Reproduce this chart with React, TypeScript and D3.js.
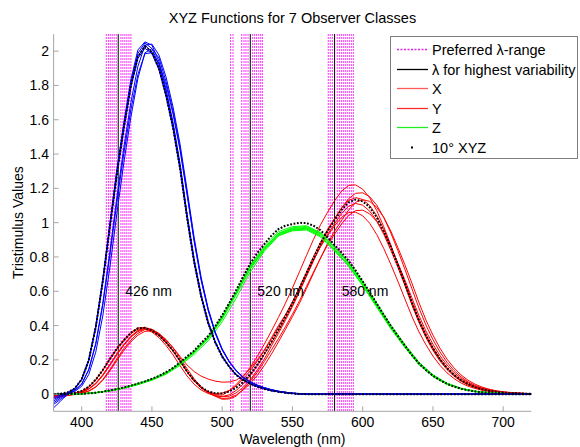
import React from 'react';
import * as d3 from 'd3';

const W = 580;
const H = 447;
const plot = { left: 53.6, right: 531.3, top: 34, bottom: 411.3 };
const font = 'Liberation Sans, Arial, Helvetica, sans-serif';

// wavelength grids (nm)
const wl5 = d3.range(380, 721, 5);
const wl10 = d3.range(380, 721, 10);

// 10 degree standard observer
const x10 = [
  0.0002, 0.0007, 0.0024, 0.0072, 0.0191, 0.0434, 0.0847, 0.1406, 0.2045, 0.2647,
  0.3147, 0.3577, 0.3837, 0.3867, 0.3707, 0.3430, 0.3023, 0.2541, 0.1956, 0.1323,
  0.0805, 0.0411, 0.0162, 0.0051, 0.0038, 0.0154, 0.0375, 0.0714, 0.1177, 0.1730,
  0.2365, 0.3042, 0.3768, 0.4516, 0.5298, 0.6161, 0.7052, 0.7938, 0.8787, 0.9512,
  1.0142, 1.0743, 1.1185, 1.1343, 1.1240, 1.0891, 1.0305, 0.9507, 0.8563, 0.7549,
  0.6475, 0.5351, 0.4316, 0.3437, 0.2683, 0.2043, 0.1526, 0.1122, 0.0813, 0.0579,
  0.0409, 0.0286, 0.0199, 0.0138, 0.0096, 0.0066, 0.0046, 0.0031, 0.0022,
];
const y10 = [
  0.0000, 0.0001, 0.0003, 0.0008, 0.0020, 0.0045, 0.0088, 0.0145, 0.0214, 0.0295,
  0.0387, 0.0496, 0.0621, 0.0747, 0.0895, 0.1063, 0.1282, 0.1528, 0.1852, 0.2199,
  0.2536, 0.2977, 0.3391, 0.3954, 0.4608, 0.5314, 0.6067, 0.6857, 0.7618, 0.8233,
  0.8752, 0.9238, 0.9620, 0.9822, 0.9918, 0.9991, 0.9973, 0.9824, 0.9556, 0.9152,
  0.8689, 0.8256, 0.7774, 0.7204, 0.6583, 0.5939, 0.5280, 0.4618, 0.3981, 0.3396,
  0.2835, 0.2283, 0.1798, 0.1402, 0.1076, 0.0812, 0.0603, 0.0441, 0.0318, 0.0226,
  0.0159, 0.0111, 0.0077, 0.0054, 0.0037, 0.0026, 0.0018, 0.0012, 0.0008,
];
const z10 = [
  0.0007, 0.0029, 0.0105, 0.0323, 0.0860, 0.1971, 0.3894, 0.6568, 0.9725, 1.2825,
  1.5535, 1.7985, 1.9673, 2.0273, 1.9948, 1.9007, 1.7454, 1.5549, 1.3176, 1.0302,
  0.7721, 0.5701, 0.4153, 0.3024, 0.2185, 0.1592, 0.1120, 0.0822, 0.0607, 0.0431,
  0.0305, 0.0206, 0.0137, 0.0079, 0.0040, 0.0011, 0, 0, 0, 0,
  0, 0, 0, 0, 0, 0, 0, 0, 0, 0,
  0, 0, 0, 0, 0, 0, 0, 0, 0, 0,
  0, 0, 0, 0, 0, 0, 0, 0, 0,
];

// observer classes, x-bar (5 nm)
const xObs1 = [
  -0.020, -0.015, -0.008, 0.000, 0.014, 0.040, 0.083, 0.140, 0.205, 0.266,
  0.317, 0.360, 0.386, 0.389, 0.372, 0.343, 0.301, 0.252, 0.193, 0.130,
  0.078, 0.038, 0.012, -0.002, -0.006, 0.020, 0.056, 0.102, 0.157, 0.221,
  0.292, 0.368, 0.447, 0.530, 0.619, 0.714, 0.809, 0.903, 0.988, 1.061,
  1.128, 1.184, 1.217, 1.220, 1.195, 1.145, 1.070, 0.976, 0.870, 0.757,
  0.639, 0.522, 0.419, 0.330, 0.255, 0.193, 0.143, 0.105, 0.075, 0.053,
  0.038, 0.026, 0.018, 0.013, 0.009, 0.006, 0.004, 0.003, 0.002,
];
const xObs2 = [
  -0.012, -0.008, -0.004, 0.002, 0.011, 0.030, 0.062, 0.110, 0.170, 0.232,
  0.288, 0.336, 0.370, 0.385, 0.375, 0.347, 0.304, 0.253, 0.194, 0.131,
  0.078, 0.038, 0.010, -0.008, -0.015, -0.012, 0.008, 0.040, 0.085, 0.140,
  0.205, 0.281, 0.354, 0.431, 0.510, 0.596, 0.687, 0.779, 0.870, 0.952,
  1.022, 1.086, 1.140, 1.171, 1.174, 1.151, 1.102, 1.030, 0.940, 0.838,
  0.729, 0.615, 0.503, 0.403, 0.318, 0.246, 0.186, 0.138, 0.101, 0.072,
  0.051, 0.036, 0.025, 0.018, 0.012, 0.008, 0.006, 0.004, 0.003,
];
const xObs3 = [
  -0.008, -0.005, -0.002, 0.002, 0.007, 0.019, 0.043, 0.085, 0.141, 0.205,
  0.265, 0.315, 0.355, 0.377, 0.378, 0.352, 0.308, 0.255, 0.194, 0.130,
  0.076, 0.035, 0.008, -0.010, -0.025, -0.022, -0.005, 0.025, 0.062, 0.110,
  0.167, 0.233, 0.304, 0.377, 0.452, 0.530, 0.616, 0.705, 0.794, 0.879,
  0.951, 1.014, 1.074, 1.119, 1.134, 1.124, 1.089, 1.031, 0.951, 0.856,
  0.755, 0.648, 0.535, 0.432, 0.344, 0.268, 0.204, 0.153, 0.112, 0.081,
  0.058, 0.041, 0.029, 0.020, 0.014, 0.010, 0.007, 0.005, 0.003,
];
const xObs4 = [
  -0.015, -0.010, -0.005, 0.001, 0.010, 0.029, 0.060, 0.108, 0.168, 0.230,
  0.285, 0.332, 0.365, 0.378, 0.362, 0.330, 0.284, 0.229, 0.166, 0.106,
  0.058, 0.024, 0.004, -0.010, -0.014, -0.004, 0.022, 0.060, 0.108, 0.165,
  0.232, 0.298, 0.369, 0.443, 0.519, 0.604, 0.691, 0.778, 0.861, 0.932,
  0.994, 1.053, 1.096, 1.112, 1.102, 1.067, 1.010, 0.932, 0.839, 0.740,
  0.635, 0.524, 0.423, 0.337, 0.263, 0.200, 0.150, 0.110, 0.080, 0.057,
  0.040, 0.028, 0.020, 0.014, 0.009, 0.006, 0.005, 0.003, 0.002,
];
const xObs5 = [
  -0.018, -0.014, -0.008, -0.002, 0.005, 0.017, 0.040, 0.080, 0.135, 0.196,
  0.255, 0.305, 0.344, 0.366, 0.370, 0.352, 0.318, 0.270, 0.212, 0.148,
  0.090, 0.043, 0.010, -0.012, -0.030, -0.028, -0.012, 0.030, 0.075, 0.128,
  0.190, 0.257, 0.323, 0.393, 0.466, 0.544, 0.628, 0.712, 0.794, 0.869,
  0.934, 0.992, 1.042, 1.070, 1.073, 1.051, 1.007, 0.941, 0.858, 0.765,
  0.666, 0.562, 0.459, 0.368, 0.291, 0.224, 0.170, 0.126, 0.092, 0.066,
  0.047, 0.033, 0.023, 0.016, 0.011, 0.008, 0.005, 0.004, 0.003,
];
const xObs6 = [
  -0.010, -0.006, -0.001, 0.006, 0.018, 0.042, 0.083, 0.139, 0.202, 0.262,
  0.311, 0.353, 0.379, 0.383, 0.368, 0.340, 0.300, 0.252, 0.194, 0.131,
  0.079, 0.039, 0.014, 0.003, 0.006, 0.022, 0.048, 0.089, 0.137, 0.193,
  0.254, 0.320, 0.389, 0.461, 0.539, 0.621, 0.705, 0.786, 0.860, 0.924,
  0.982, 1.031, 1.059, 1.061, 1.040, 0.996, 0.931, 0.849, 0.757, 0.659,
  0.556, 0.454, 0.364, 0.288, 0.222, 0.168, 0.124, 0.091, 0.065, 0.046,
  0.033, 0.023, 0.016, 0.011, 0.008, 0.005, 0.004, 0.003, 0.002,
];
const xObs7 = [
  -0.005, -0.002, 0.000, 0.004, 0.013, 0.031, 0.064, 0.113, 0.173, 0.235,
  0.290, 0.337, 0.371, 0.386, 0.378, 0.354, 0.318, 0.272, 0.220, 0.170,
  0.132, 0.105, 0.088, 0.076, 0.070, 0.071, 0.082, 0.108, 0.150, 0.200,
  0.258, 0.328, 0.400, 0.462, 0.535, 0.622, 0.712, 0.802, 0.887, 0.961,
  1.024, 1.085, 1.130, 1.146, 1.135, 1.100, 1.041, 0.960, 0.865, 0.762,
  0.654, 0.540, 0.436, 0.347, 0.271, 0.206, 0.154, 0.113, 0.082, 0.058,
  0.041, 0.029, 0.020, 0.014, 0.010, 0.007, 0.005, 0.003, 0.002,
];

// observer classes, y-bar (10 nm)
const yObs1 = [
  0, 0.000, 0.002, 0.009, 0.021, 0.038, 0.060, 0.087, 0.124, 0.180,
  0.246, 0.329, 0.447, 0.588, 0.739, 0.849, 0.933, 0.962, 0.967, 0.927,
  0.843, 0.754, 0.639, 0.512, 0.386, 0.275, 0.174, 0.104, 0.058, 0.031,
  0.015, 0.007, 0.004, 0.002, 0.001,
];
const yObs2 = [
  0, 0.000, 0.002, 0.008, 0.020, 0.036, 0.058, 0.085, 0.121, 0.175,
  0.241, 0.322, 0.438, 0.583, 0.737, 0.852, 0.937, 0.970, 0.978, 0.941,
  0.856, 0.764, 0.648, 0.520, 0.392, 0.279, 0.177, 0.106, 0.059, 0.031,
  0.016, 0.008, 0.004, 0.002, 0.001,
];
const yObs3 = [
  0, 0.000, 0.002, 0.009, 0.021, 0.037, 0.060, 0.086, 0.124, 0.179,
  0.245, 0.327, 0.445, 0.585, 0.735, 0.845, 0.928, 0.957, 0.962, 0.922,
  0.838, 0.750, 0.635, 0.510, 0.384, 0.274, 0.174, 0.104, 0.058, 0.031,
  0.015, 0.007, 0.004, 0.002, 0.001,
];
const yObs4 = [
  0, 0.000, 0.002, 0.009, 0.021, 0.038, 0.061, 0.088, 0.126, 0.181,
  0.248, 0.331, 0.449, 0.592, 0.743, 0.853, 0.938, 0.967, 0.972, 0.935,
  0.852, 0.764, 0.650, 0.524, 0.397, 0.285, 0.183, 0.111, 0.063, 0.034,
  0.017, 0.009, 0.004, 0.002, 0.001,
];
const yObs5 = [
  0, 0.000, 0.001, 0.007, 0.018, 0.034, 0.055, 0.081, 0.116, 0.167,
  0.232, 0.311, 0.422, 0.560, 0.713, 0.833, 0.922, 0.959, 0.968, 0.936,
  0.857, 0.770, 0.657, 0.531, 0.404, 0.290, 0.187, 0.113, 0.064, 0.034,
  0.017, 0.009, 0.004, 0.002, 0.001,
];
const yObs6 = [
  0, 0.000, 0.002, 0.008, 0.021, 0.037, 0.060, 0.086, 0.123, 0.178,
  0.243, 0.326, 0.442, 0.582, 0.731, 0.840, 0.924, 0.952, 0.957, 0.917,
  0.834, 0.746, 0.632, 0.507, 0.382, 0.272, 0.173, 0.103, 0.058, 0.031,
  0.015, 0.007, 0.004, 0.002, 0.001,
];
const yObs7 = [
  0, 0.000, 0.002, 0.009, 0.021, 0.038, 0.061, 0.088, 0.126, 0.182,
  0.250, 0.334, 0.454, 0.598, 0.750, 0.862, 0.948, 0.977, 0.982, 0.941,
  0.856, 0.766, 0.648, 0.520, 0.392, 0.279, 0.177, 0.106, 0.059, 0.031,
  0.016, 0.008, 0.004, 0.002, 0.001,
];

// observer classes, z-bar (5 nm)
const zObs1 = [
  -0.080, -0.040, 0.000, 0.030, 0.087, 0.199, 0.393, 0.663, 0.982, 1.295,
  1.569, 1.816, 1.987, 2.048, 2.015, 1.920, 1.763, 1.570, 1.331, 1.041,
  0.780, 0.576, 0.419, 0.305, 0.221, 0.161, 0.113, 0.083, 0.061, 0.044,
  0.031, 0.021, 0.014, 0.008, 0.004, 0.001, 0, 0, 0, 0,
  0, 0, 0, 0, 0, 0, 0, 0, 0, 0,
  0, 0, 0, 0, 0, 0, 0, 0, 0, 0,
  0, 0, 0, 0, 0, 0, 0, 0, 0,
];
const zObs2 = [
  -0.050, -0.022, 0.004, 0.031, 0.086, 0.197, 0.389, 0.657, 0.973, 1.283,
  1.554, 1.799, 1.967, 2.035, 1.995, 1.901, 1.745, 1.555, 1.318, 1.030,
  0.772, 0.570, 0.415, 0.302, 0.219, 0.159, 0.112, 0.082, 0.061, 0.043,
  0.031, 0.021, 0.014, 0.008, 0.004, 0.001, 0, 0, 0, 0,
  0, 0, 0, 0, 0, 0, 0, 0, 0, 0,
  0, 0, 0, 0, 0, 0, 0, 0, 0, 0,
  0, 0, 0, 0, 0, 0, 0, 0, 0,
];
const zObs3 = [
  -0.060, -0.030, -0.002, 0.020, 0.060, 0.144, 0.297, 0.531, 0.827, 1.145,
  1.439, 1.701, 1.911, 2.035, 2.041, 1.977, 1.850, 1.675, 1.458, 1.192,
  0.915, 0.681, 0.500, 0.364, 0.264, 0.192, 0.138, 0.098, 0.072, 0.053,
  0.038, 0.026, 0.017, 0.011, 0.006, 0.003, 0.001, 0, 0, 0,
  0, 0, 0, 0, 0, 0, 0, 0, 0, 0,
  0, 0, 0, 0, 0, 0, 0, 0, 0, 0,
  0, 0, 0, 0, 0, 0, 0, 0, 0,
];
const zObs4 = [
  -0.030, -0.012, 0.004, 0.021, 0.058, 0.141, 0.290, 0.518, 0.807, 1.117,
  1.404, 1.659, 1.864, 1.985, 1.991, 1.929, 1.805, 1.634, 1.422, 1.162,
  0.892, 0.664, 0.488, 0.355, 0.257, 0.187, 0.135, 0.096, 0.070, 0.051,
  0.037, 0.026, 0.017, 0.011, 0.006, 0.003, 0.001, 0, 0, 0,
  0, 0, 0, 0, 0, 0, 0, 0, 0, 0,
  0, 0, 0, 0, 0, 0, 0, 0, 0, 0,
  0, 0, 0, 0, 0, 0, 0, 0, 0,
];
const zObs5 = [
  -0.020, -0.006, 0.010, 0.033, 0.088, 0.201, 0.397, 0.670, 0.992, 1.308,
  1.585, 1.834, 2.007, 2.054, 2.035, 1.939, 1.780, 1.586, 1.344, 1.051,
  0.788, 0.581, 0.424, 0.308, 0.223, 0.162, 0.114, 0.084, 0.062, 0.044,
  0.031, 0.021, 0.014, 0.008, 0.004, 0.001, 0, 0, 0, 0,
  0, 0, 0, 0, 0, 0, 0, 0, 0, 0,
  0, 0, 0, 0, 0, 0, 0, 0, 0, 0,
  0, 0, 0, 0, 0, 0, 0, 0, 0,
];
const zObs6 = [
  0.000, 0.001, 0.004, 0.015, 0.046, 0.114, 0.245, 0.456, 0.736, 1.050,
  1.350, 1.615, 1.841, 1.990, 2.015, 1.960, 1.823, 1.650, 1.436, 1.174,
  0.901, 0.671, 0.493, 0.359, 0.260, 0.189, 0.136, 0.097, 0.071, 0.052,
  0.037, 0.026, 0.017, 0.011, 0.006, 0.003, 0.001, 0, 0, 0,
  0, 0, 0, 0, 0, 0, 0, 0, 0, 0,
  0, 0, 0, 0, 0, 0, 0, 0, 0, 0,
  0, 0, 0, 0, 0, 0, 0, 0, 0,
];
const zObs7 = [
  -0.040, -0.015, 0.007, 0.032, 0.085, 0.196, 0.387, 0.653, 0.968, 1.276,
  1.546, 1.790, 1.957, 2.017, 1.985, 1.891, 1.737, 1.547, 1.311, 1.025,
  0.768, 0.567, 0.413, 0.301, 0.217, 0.158, 0.111, 0.082, 0.060, 0.043,
  0.030, 0.020, 0.014, 0.008, 0.004, 0.001, 0, 0, 0, 0,
  0, 0, 0, 0, 0, 0, 0, 0, 0, 0,
  0, 0, 0, 0, 0, 0, 0, 0, 0, 0,
  0, 0, 0, 0, 0, 0, 0, 0, 0,
];

const xObs = [xObs1, xObs2, xObs3, xObs4, xObs5, xObs6, xObs7];
const yObs = [yObs1, yObs2, yObs3, yObs4, yObs5, yObs6, yObs7];
const zObs = [zObs1, zObs2, zObs3, zObs4, zObs5, zObs6, zObs7];

// vertical markers
const preferredWl = [
  417.5, 419.0, 420.3, 421.7, 423.1, 424.6, 427.9, 429.3, 430.7, 432.1, 433.6, 435.0,
  506.0, 507.7, 513.9, 515.5, 516.9, 518.4, 521.7, 523.1, 524.5, 526.0, 527.4, 528.6,
  575.5, 576.9, 578.4, 581.9, 583.4, 584.8, 586.2, 587.6, 589.0, 590.5, 591.9, 593.3,
];
const peakWl = [426, 520, 580];
const peakLabels = ['426 nm', '520 nm', '580 nm'];

const xTicks = [400, 450, 500, 550, 600, 650, 700];
const yTicks = [0, 0.2, 0.4, 0.6, 0.8, 1, 1.2, 1.4, 1.6, 1.8, 2];

const legendLabels = ['Preferred \u03bb-range', '\u03bb for highest variability', 'X', 'Y', 'Z', '10\u00b0 XYZ'];
const legendColors = ['#e020e0', '#000000', '#ff5a5a', '#ff2a2a', '#22ee22', '#000000'];

const xScale = d3.scaleLinear().domain([380, 720]).range([plot.left, plot.right]);
const yScale = d3.scaleLinear().domain([-0.1, 2.1]).range([plot.bottom, plot.top]);

const path5 = d3
  .line<number>()
  .x((_, i) => xScale(wl5[i]))
  .y((d) => yScale(d));
const path10 = d3
  .line<number>()
  .x((_, i) => xScale(wl10[i]))
  .y((d) => yScale(d));

export default function App() {
  const axisGray = '#a6a6a6';
  const legend = { x: 390, y: 36, w: 187, h: 122 };
  const rowY = (i: number) => 49 + i * 19.5;

  return (
    <svg
      width={W}
      height={H}
      style={{ position: 'absolute', left: 0, top: 0, background: '#fff' }}
      fontFamily={font}
    >
      <rect width={W} height={H} fill="#fff" />
      <defs>
        <clipPath id="plotclip">
          <rect x={plot.left} y={plot.top} width={plot.right - plot.left} height={plot.bottom - plot.top} />
        </clipPath>
      </defs>

      <text x={(plot.left + plot.right) / 2} y={18} textAnchor="middle" dominantBaseline="central" fontSize={14.5}>
        XYZ Functions for 7 Observer Classes
      </text>

      <g clipPath="url(#plotclip)">
        {preferredWl.map((w) => (
          <line
            key={'p' + w}
            x1={xScale(w)}
            x2={xScale(w)}
            y1={plot.top}
            y2={plot.bottom}
            stroke="#ff00ff"
            strokeOpacity={0.8}
            strokeWidth={1}
            strokeDasharray="2 1"
          />
        ))}
        {peakWl.map((w) => (
          <line key={'b' + w} x1={xScale(w)} x2={xScale(w)} y1={plot.top} y2={plot.bottom} stroke="#000" strokeWidth={1} />
        ))}

        {xObs.map((d, i) => (
          <path key={'x' + i} d={path5(d) || ''} fill="none" stroke="#ff0000" strokeWidth={1} />
        ))}
        {yObs.map((d, i) => (
          <path key={'y' + i} d={path10(d) || ''} fill="none" stroke="#00ff00" strokeWidth={1} />
        ))}
        {zObs.map((d, i) => (
          <path key={'z' + i} d={path5(d) || ''} fill="none" stroke="#0000ff" strokeWidth={1} />
        ))}

        {[x10, y10, z10].map((d, i) => (
          <path
            key={'s' + i}
            d={path5(d) || ''}
            fill="none"
            stroke="#000"
            strokeWidth={2}
            strokeDasharray="1.8 1.6"
          />
        ))}
      </g>

      {peakWl.map((w, i) => (
        <text key={'t' + w} x={xScale(w + 5)} y={yScale(0.6)} dominantBaseline="central" fontSize={14}>
          {peakLabels[i]}
        </text>
      ))}

      {/* axes */}
      <line x1={plot.left} x2={plot.left} y1={plot.top} y2={plot.bottom} stroke={axisGray} />
      <line x1={plot.left} x2={plot.right} y1={plot.bottom} y2={plot.bottom} stroke={axisGray} />
      {xTicks.map((t) => (
        <g key={'xt' + t}>
          <line x1={xScale(t)} x2={xScale(t)} y1={plot.bottom} y2={plot.bottom - 5} stroke={axisGray} />
          <text x={xScale(t)} y={422} textAnchor="middle" dominantBaseline="central" fontSize={14}>
            {t}
          </text>
        </g>
      ))}
      {yTicks.map((t) => (
        <g key={'yt' + t}>
          <line x1={plot.left} x2={plot.left + 5} y1={yScale(t)} y2={yScale(t)} stroke={axisGray} />
          <text x={49} y={yScale(t)} textAnchor="end" dominantBaseline="central" fontSize={14}>
            {String(t)}
          </text>
        </g>
      ))}
      <text x={(plot.left + plot.right) / 2} y={438.5} textAnchor="middle" dominantBaseline="central" fontSize={14}>
        Wavelength (nm)
      </text>
      <text
        transform={`translate(18,${(plot.top + plot.bottom) / 2}) rotate(-90)`}
        textAnchor="middle"
        dominantBaseline="central"
        fontSize={14}
      >
        Tristimulus Values
      </text>

      {/* legend */}
      <rect x={legend.x + 0.5} y={legend.y + 0.5} width={legend.w} height={legend.h} fill="#fff" stroke="#7f7f7f" />
      {legendLabels.map((lab, i) => {
        const y = Math.round(rowY(i)) + 0.5;
        const sample =
          i === 5 ? (
            <rect x={411} y={y - 1} width={2} height={2} fill={legendColors[i]} />
          ) : (
            <line
              x1={397}
              x2={428}
              y1={y}
              y2={y}
              stroke={legendColors[i]}
              strokeWidth={i === 0 ? 1.5 : 1.3}
              strokeDasharray={i === 0 ? '2 1.5' : undefined}
            />
          );
        return (
          <g key={'l' + i}>
            {sample}
            <text x={432} y={y} dominantBaseline="central" fontSize={14.5}>
              {lab}
            </text>
          </g>
        );
      })}
    </svg>
  );
}
